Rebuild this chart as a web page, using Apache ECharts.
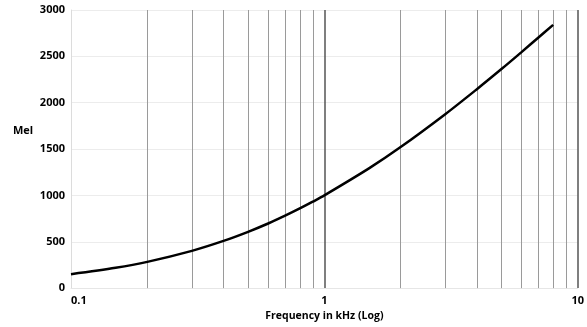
<!DOCTYPE html>
<html>
<head>
<meta charset="utf-8">
<script src="https://cdn.jsdelivr.net/npm/echarts@6/dist/echarts.min.js"></script>
<style>
  html, body { margin: 0; padding: 0; background: #fff; }
  #chart { width: 587px; height: 327px; }
</style>
</head>
<body>
<div id="chart"></div>
<script>
// Frequency (kHz) and the corresponding pitch in mel
const frequencies = [0.1, 0.15, 0.2, 0.3, 0.4, 0.5, 0.6, 0.7, 0.8, 0.9, 1, 1.5, 2, 3, 4, 5, 6, 7, 8];
const melValues = [150, 219, 283, 402, 509, 607, 697, 781, 859, 932, 1000, 1291, 1521, 1876, 2146, 2363, 2546, 2704, 2840];

// Vertical grid lines on the log axis
const minorGrid = [0.2, 0.3, 0.4, 0.5, 0.6, 0.7, 0.8, 0.9, 2, 3, 4, 5, 6, 7, 8, 9];
const majorGrid = [1, 10];

const FONT = 'Open Sans';

const chart = echarts.init(document.getElementById('chart'), null, { renderer: 'canvas' });

chart.setOption({
  animation: false,
  backgroundColor: '#fff',
  title: {
    text: 'Mel',
    left: 8,
    top: 120,
    textStyle: { fontFamily: FONT, fontWeight: 'bold', fontSize: 11, color: '#000' }
  },
  grid: { left: 71, right: 6, top: 10, bottom: 35 },
  xAxis: {
    type: 'log',
    logBase: 10,
    min: 0.1,
    max: 10,
    name: 'Frequency in kHz (Log)',
    nameLocation: 'middle',
    nameGap: 17,
    nameTextStyle: { fontFamily: FONT, fontWeight: 'bold', fontSize: 10.5, color: '#000' },
    axisLine: { show: true, lineStyle: { color: '#e6e6e6', width: 1 } },
    axisTick: { show: false },
    splitLine: { show: false },
    axisLabel: {
      fontFamily: FONT, fontWeight: 'bold', fontSize: 11, color: '#000',
      margin: 7,
      alignMinLabel: 'left',
      alignMaxLabel: 'center',
      formatter: v => String(v)
    }
  },
  yAxis: {
    type: 'value',
    min: 0,
    max: 3000,
    interval: 500,
    axisLine: { show: true, lineStyle: { color: '#dcdcdc', width: 1 } },
    axisTick: { show: false },
    splitLine: { show: true, lineStyle: { color: '#ececec', width: 1 } },
    axisLabel: {
      fontFamily: FONT, fontWeight: 'bold', fontSize: 11, color: '#000',
      margin: 6,
      formatter: v => String(v)
    }
  },
  series: [
    {
      type: 'line',
      data: frequencies.map((f, i) => [f, melValues[i]]),
      smooth: 0.3,
      showSymbol: false,
      lineStyle: { color: '#000', width: 2.5 },
      z: 5,
      markLine: {
        silent: true,
        symbol: ['none', 'none'],
        label: { show: false },
        animation: false,
        data: minorGrid.map(v => ({ xAxis: v, lineStyle: { color: '#9a9a9a', width: 1, type: 'solid' } }))
          .concat(majorGrid.map(v => ({ xAxis: v, lineStyle: { color: '#555', width: 1.5, type: 'solid' } })))
      }
    }
  ]
});
</script>
</body>
</html>
